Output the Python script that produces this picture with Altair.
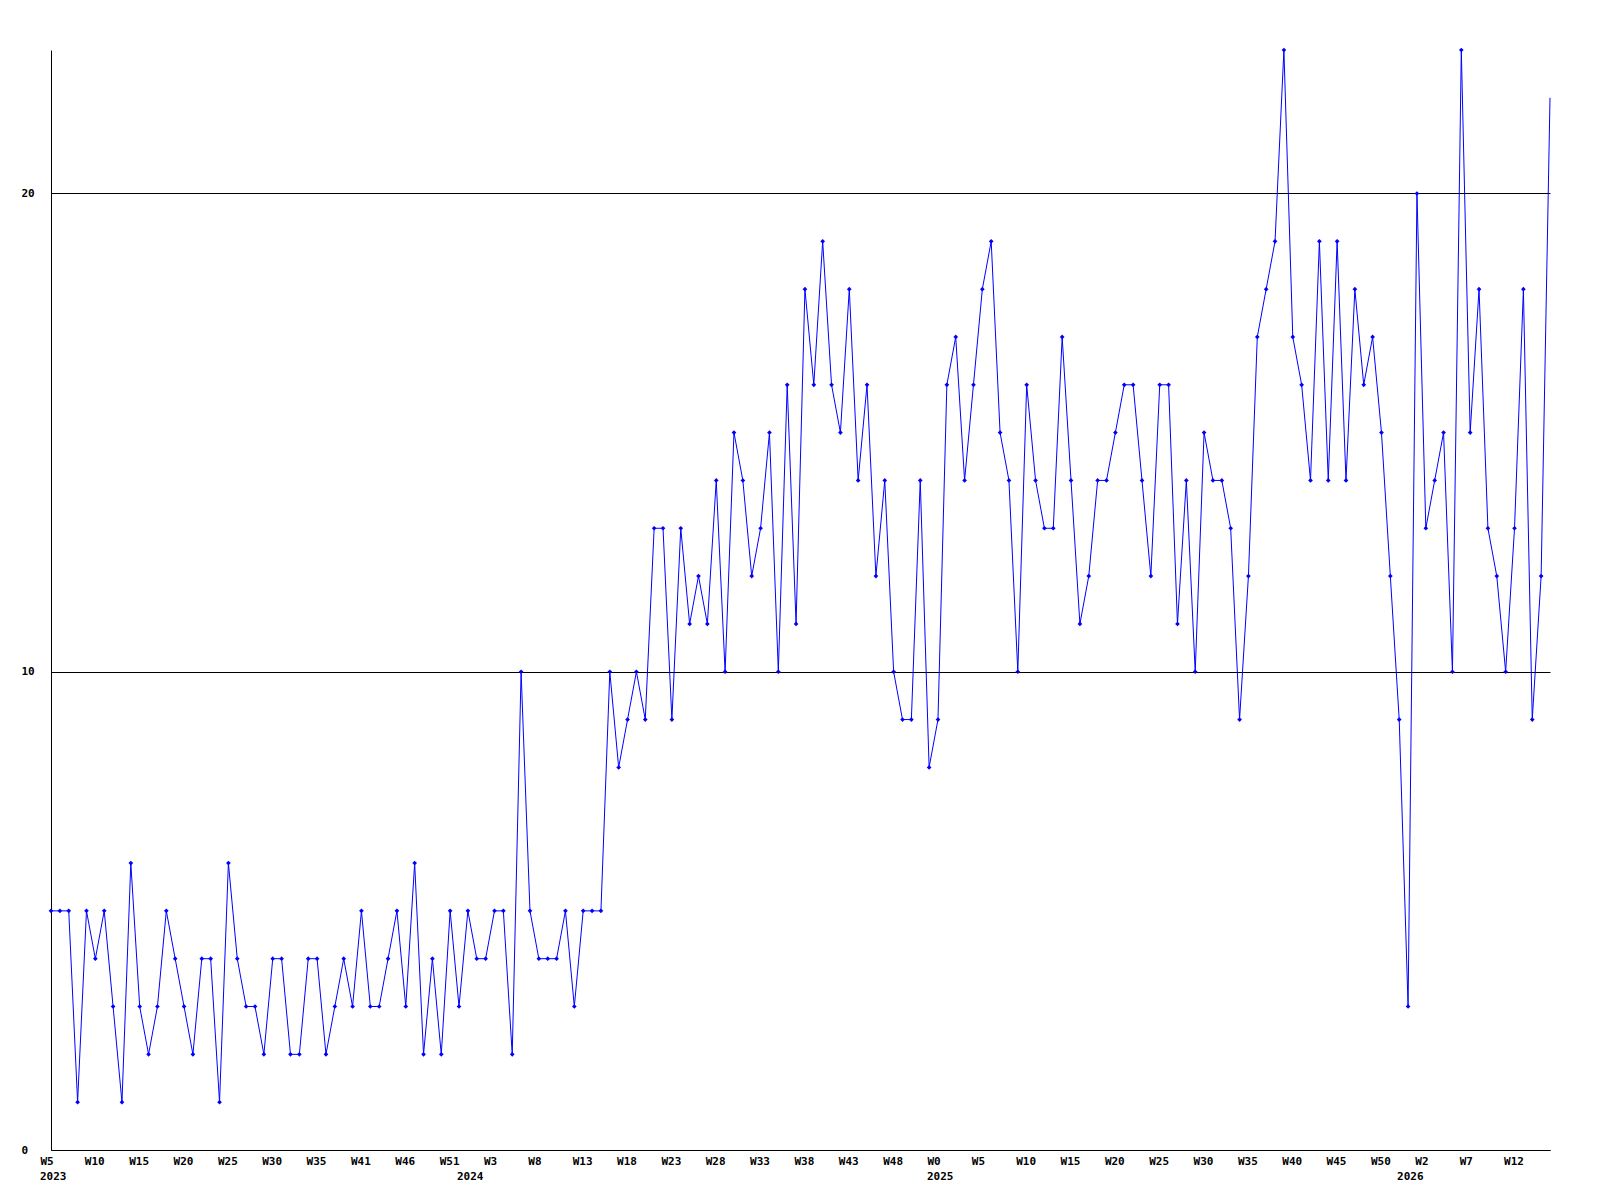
import altair as alt
import pandas as pd

# weekly values, index 0 = first week shown (W5 2023)
values = [
    5, 5, 5, 1, 5, 4, 5, 3, 1, 6, 3, 2, 3, 5, 4, 3, 2, 4, 4, 1,
    6, 4, 3, 3, 2, 4, 4, 2, 2, 4, 4, 2, 3, 4, 3, 5, 3, 3, 4, 5,
    3, 6, 2, 4, 2, 5, 3, 5, 4, 4, 5, 5, 2, 10, 5, 4, 4, 4, 5, 3,
    5, 5, 5, 10, 8, 9, 10, 9, 13, 13, 9, 13, 11, 12, 11, 14, 10, 15, 14, 12,
    13, 15, 10, 16, 11, 18, 16, 19, 16, 15, 18, 14, 16, 12, 14, 10, 9, 9, 14, 8,
    9, 16, 17, 14, 16, 18, 19, 15, 14, 10, 16, 14, 13, 13, 17, 14, 11, 12, 14, 14,
    15, 16, 16, 14, 12, 16, 16, 11, 14, 10, 15, 14, 14, 13, 9, 12, 17, 18, 19, 23,
    17, 16, 14, 19, 14, 19, 14, 18, 16, 17, 15, 12, 9, 3, 20, 13, 14, 15, 10, 23,
    15, 18, 13, 12, 10, 13, 18, 9, 12, 22,
]

# tick labels, one every 5 weeks
week_labels = [
    "W5", "W10", "W15", "W20", "W25", "W30", "W35", "W41", "W46", "W51",
    "W3", "W8", "W13", "W18", "W23", "W28", "W33", "W38", "W43", "W48",
    "W0", "W5", "W10", "W15", "W20", "W25", "W30", "W35", "W40", "W45",
    "W50", "W2", "W7", "W12",
]
year_labels = ["2023", "2024", "2025", "2026"]
year_index = [0, 47, 100, 153]

n = len(values)
df = pd.DataFrame({"i": list(range(n)), "v": values})
ydf = pd.DataFrame({"i": year_index, "t": year_labels})

FONT = "DejaVu Sans Mono"
BLUE = "#0000ff"

xscale = alt.Scale(domain=[0, n - 1], nice=False, zero=False)
yscale = alt.Scale(domain=[0, 23], nice=False, zero=True)

label_arr = "[" + ",".join("'%s'" % s for s in week_labels) + "]"

xaxis = alt.Axis(
    values=list(range(0, 5 * len(week_labels), 5)),
    labelExpr=label_arr + "[round(datum.value / 5)]",
    ticks=False, tickSize=0, grid=False,
    labelAlign="left", labelOffset=-11, labelPadding=11, labelBaseline="middle",
    labelFlush=False, labelOverlap=False,
    domainColor="black", domainWidth=1,
    labelFont=FONT, labelFontSize=11, labelFontWeight="bold", labelColor="black",
    title=None,
)
yaxis = alt.Axis(
    values=[0, 10, 20],
    ticks=False, tickSize=0, grid=True, gridColor="black", gridOpacity=1, gridWidth=1,
    labelAlign="left", labelPadding=30, labelBaseline="middle",
    domainColor="black", domainWidth=1,
    labelFont=FONT, labelFontSize=11, labelFontWeight="bold", labelColor="black",
    title=None,
)

base = alt.Chart(df)
line = base.mark_line(color=BLUE, strokeWidth=1).encode(
    x=alt.X("i:Q", scale=xscale, axis=xaxis),
    y=alt.Y("v:Q", scale=yscale, axis=yaxis),
)
pts = base.transform_filter(alt.datum.i < n - 1).mark_point(
    shape="diamond", filled=True, size=22, color=BLUE, opacity=1
).encode(
    x=alt.X("i:Q", scale=xscale),
    y=alt.Y("v:Q", scale=yscale),
)
years = alt.Chart(ydf).mark_text(
    align="left", baseline="middle", dx=-11, font=FONT, fontSize=11,
    fontWeight="bold", color="black"
).encode(
    x=alt.X("i:Q", scale=xscale),
    y=alt.value(1127),
    text="t:N",
)

chart = alt.layer(line, pts, years).properties(
    width=1499, height=1100,
    autosize=alt.AutoSizeParams(type="none"),
    padding={"left": 43, "top": 42, "right": 42, "bottom": 42},
    background="white",
).configure_view(stroke=None)

chart.save("out.html", embed_options={"renderer": "svg", "actions": False})
